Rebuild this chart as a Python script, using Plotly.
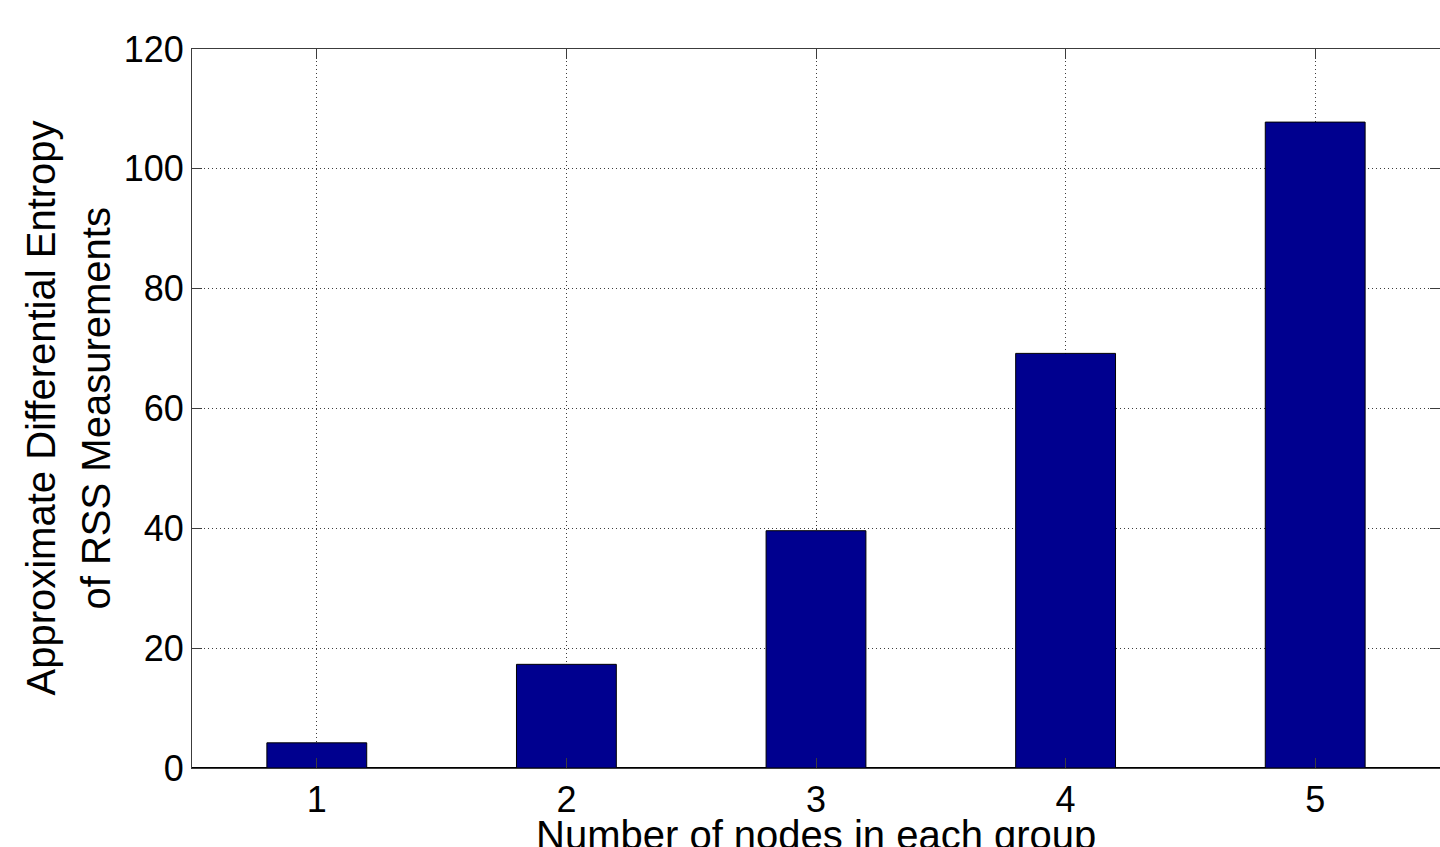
import plotly.graph_objects as go

# Group sizes and the approximate differential entropy of RSS measurements
group_sizes = [1, 2, 3, 4, 5]
entropy_values = [4.2, 17.3, 39.6, 69.2, 107.8]

y_ticks = [0, 20, 40, 60, 80, 100, 120]

x_title = "Number of nodes in each group"
y_title_lines = ["Approximate Differential Entropy", "of RSS Measurements"]

FONT = "Liberation Sans, Arial, Helvetica, sans-serif"
AXIS_COLOR = "#3c3c3c"
GRID_COLOR = "#3c3c3c"

fig = go.Figure(
    go.Bar(
        x=group_sizes,
        y=entropy_values,
        width=0.4,
        marker=dict(color="rgb(0,0,143)", line=dict(color="black", width=1)),
    )
)

fig.update_layout(
    width=1440,
    height=847,
    margin=dict(l=192, r=0, t=49, b=79),
    paper_bgcolor="white",
    plot_bgcolor="white",
    showlegend=False,
    font=dict(family=FONT, size=36, color="black"),
)

fig.update_xaxes(
    range=[0.5, 5.5],
    tickmode="array",
    tickvals=group_sizes,
    ticktext=[str(v) for v in group_sizes],
    ticks="inside",
    ticklen=10,
    tickcolor=AXIS_COLOR,
    showline=True,
    linecolor=AXIS_COLOR,
    linewidth=1,
    mirror="ticks",
    showgrid=True,
    gridcolor=GRID_COLOR,
    gridwidth=1,
    griddash="1px,3px",
    zeroline=False,
    tickfont=dict(size=36),
)

fig.update_yaxes(
    range=[0, 120],
    tickmode="array",
    tickvals=y_ticks,
    ticktext=[str(v) for v in y_ticks],
    ticks="inside",
    ticklen=10,
    tickcolor=AXIS_COLOR,
    showline=True,
    linecolor=AXIS_COLOR,
    linewidth=1,
    mirror="ticks",
    showgrid=True,
    gridcolor=GRID_COLOR,
    gridwidth=1,
    griddash="1px,3px",
    zeroline=True,
    zerolinecolor="black",
    zerolinewidth=1.5,
    tickfont=dict(size=36),
)

# Axis titles
fig.add_annotation(
    text=x_title, xref="paper", yref="paper", x=0.5, y=0,
    xanchor="center", yanchor="middle", yshift=-67, showarrow=False,
    font=dict(family=FONT, size=40, color="black"),
)
for line, shift in zip(y_title_lines, [-152, -97]):
    fig.add_annotation(
        text=line, xref="paper", yref="paper", x=0, y=0.5,
        xanchor="center", yanchor="middle", xshift=shift, textangle=-90,
        showarrow=False, font=dict(family=FONT, size=40, color="black"),
    )

fig.write_html("out.html")
